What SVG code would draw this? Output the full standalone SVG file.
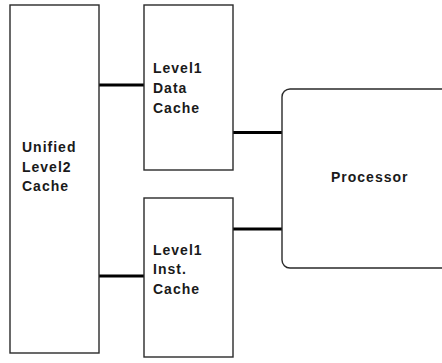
<svg xmlns="http://www.w3.org/2000/svg" width="442" height="363" viewBox="0 0 442 363">
<style>
.box{fill:#fff;stroke:#2a2a2a;stroke-width:1.4}
.lbl{font-family:"Liberation Sans",Arial,sans-serif;font-weight:bold;font-size:14px;letter-spacing:1px;fill:#1a1a1a}
.conn{stroke:#000;stroke-width:3;fill:none}
</style>
<rect width="442" height="363" fill="#fff"/>
<g id="connectors">
<line class="conn" x1="99" y1="85" x2="144" y2="85"/>
<line class="conn" x1="99" y1="276" x2="144" y2="276"/>
<line class="conn" x1="233" y1="132.5" x2="282" y2="132.5"/>
<line class="conn" x1="233" y1="229" x2="282" y2="229"/>
</g>
<g id="l2">
<rect class="box" x="10" y="5" width="89" height="348"/>
<text class="lbl" x="22" y="152">Unified</text>
<text class="lbl" x="22" y="171.5">Level2</text>
<text class="lbl" x="22" y="191">Cache</text>
</g>
<g id="l1d">
<rect class="box" x="144" y="5" width="89" height="165"/>
<text class="lbl" x="153" y="73">Level1</text>
<text class="lbl" x="153" y="93">Data</text>
<text class="lbl" x="153" y="113">Cache</text>
</g>
<g id="l1i">
<rect class="box" x="144" y="198" width="89" height="159"/>
<text class="lbl" x="153" y="254.5">Level1</text>
<text class="lbl" x="153" y="274">Inst.</text>
<text class="lbl" x="153" y="293.5">Cache</text>
</g>
<g id="proc">
<rect class="box" x="282" y="89" width="180" height="179" rx="8" ry="8"/>
<text class="lbl" x="331" y="182">Processor</text>
</g>
</svg>
